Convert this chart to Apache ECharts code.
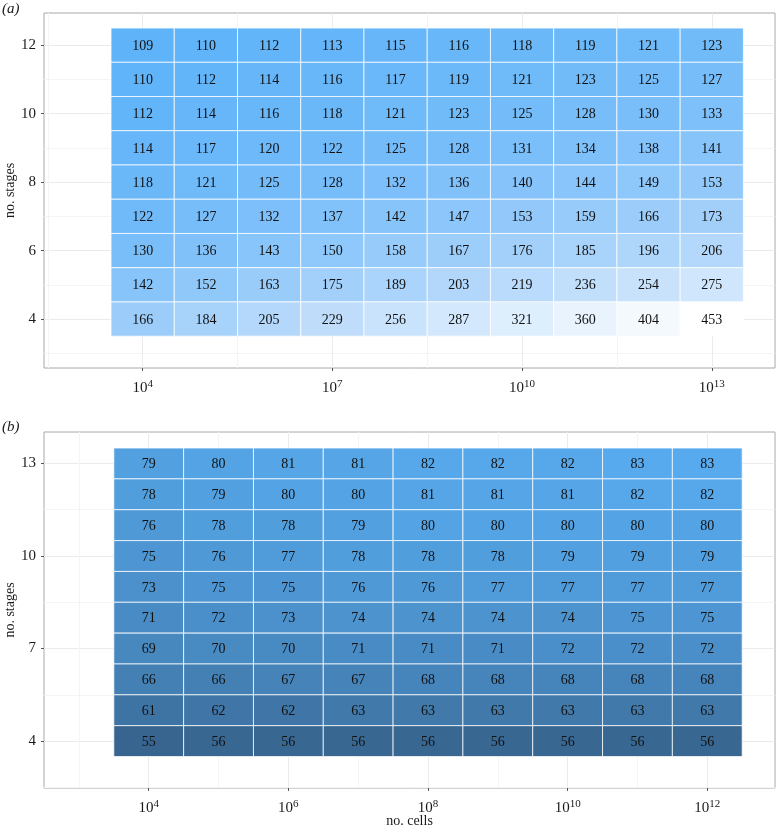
<!DOCTYPE html>
<html>
<head>
<meta charset="utf-8">
<script src="https://cdn.jsdelivr.net/npm/echarts@6/dist/echarts.min.js"></script>
<style>html,body{margin:0;padding:0;background:#fff}#c{width:776px;height:831px}</style>
</head>
<body>
<div id="c"></div>
<script>
// Panel (a): columns = log10(no. cells), rows = no. stages (top to bottom)
const colsA = [4, 5, 6, 7, 8, 9, 10, 11, 12, 13];
const stagesA = [12, 11, 10, 9, 8, 7, 6, 5, 4];
const valuesA = [
  [109, 110, 112, 113, 115, 116, 118, 119, 121, 123],
  [110, 112, 114, 116, 117, 119, 121, 123, 125, 127],
  [112, 114, 116, 118, 121, 123, 125, 128, 130, 133],
  [114, 117, 120, 122, 125, 128, 131, 134, 138, 141],
  [118, 121, 125, 128, 132, 136, 140, 144, 149, 153],
  [122, 127, 132, 137, 142, 147, 153, 159, 166, 173],
  [130, 136, 143, 150, 158, 167, 176, 185, 196, 206],
  [142, 152, 163, 175, 189, 203, 219, 236, 254, 275],
  [166, 184, 205, 229, 256, 287, 321, 360, 404, 453]
];
const xTicksA = [4, 7, 10, 13];
const xMinorA = [2.5, 5.5, 8.5, 11.5];
const yTicksA = [4, 6, 8, 10, 12];
const yMinorA = [3, 5, 7, 9, 11];

// Panel (b)
const colsB = [4, 5, 6, 7, 8, 9, 10, 11, 12];
const stagesB = [13, 12, 11, 10, 9, 8, 7, 6, 5, 4];
const valuesB = [
  [79, 80, 81, 81, 82, 82, 82, 83, 83],
  [78, 79, 80, 80, 81, 81, 81, 82, 82],
  [76, 78, 78, 79, 80, 80, 80, 80, 80],
  [75, 76, 77, 78, 78, 78, 79, 79, 79],
  [73, 75, 75, 76, 76, 77, 77, 77, 77],
  [71, 72, 73, 74, 74, 74, 74, 75, 75],
  [69, 70, 70, 71, 71, 71, 72, 72, 72],
  [66, 66, 67, 67, 68, 68, 68, 68, 68],
  [61, 62, 62, 63, 63, 63, 63, 63, 63],
  [55, 56, 56, 56, 56, 56, 56, 56, 56]
];
const xTicksB = [4, 6, 8, 10, 12];
const xMinorB = [3, 5, 7, 9, 11];
const yTicksB = [4, 7, 10, 13];
const yMinorB = [2.5, 5.5, 8.5, 11.5];

function cells(cols, stages, values) {
  const out = [];
  stages.forEach((s, i) => cols.forEach((c, j) => {
    const v = values[i][j];
    out.push([c, s, v, Math.log(v)]);
  }));
  return out;
}
const dataA = cells(colsA, stagesA, valuesA);
const dataB = cells(colsB, stagesB, valuesB);

const FONT = '"Liberation Serif", "DejaVu Serif", serif';
const labelRich = {
  b: { fontFamily: FONT, fontSize: 15, color: '#1a1a1a', lineHeight: 17, verticalAlign: 'bottom' },
  s: { fontFamily: FONT, fontSize: 11, color: '#1a1a1a', lineHeight: 17, verticalAlign: 'top' }
};

function renderCell(params, api) {
  const x = api.value(0), y = api.value(1), v = api.value(2);
  const p0 = api.coord([x - 0.5, y + 0.5]);
  const p1 = api.coord([x + 0.5, y - 0.5]);
  return {
    type: 'group',
    children: [
      { type: 'rect', shape: { x: p0[0], y: p0[1], width: p1[0] - p0[0], height: p1[1] - p0[1] },
        style: { fill: api.visual('color'), stroke: 'rgba(255,255,255,0.75)', lineWidth: 1 } },
      { type: 'text', style: { text: String(v), x: (p0[0] + p1[0]) / 2, y: (p0[1] + p1[1]) / 2 + 1,
        align: 'center', verticalAlign: 'middle', font: '14px ' + FONT, fill: '#111' } }
    ]
  };
}

function mainX(gi, min, max, ticks, name) {
  return {
    type: 'value', gridIndex: gi, min: min, max: max, position: 'bottom',
    name: name, nameLocation: 'middle', nameGap: 26, nameMoveOverlap: false,
    nameTextStyle: { fontFamily: FONT, fontSize: 14, color: '#1a1a1a' },
    axisLine: { show: false },
    axisTick: { show: true, length: 3, customValues: ticks, lineStyle: { color: '#555' } },
    axisLabel: { customValues: ticks, margin: 11, formatter: v => '{b|10}{s|' + v + '}', rich: labelRich },
    splitLine: { show: true, lineStyle: { color: '#ebebeb', width: 1 } }
  };
}
function minorX(gi, min, max, ticks) {
  return {
    type: 'value', gridIndex: gi, min: min, max: max, position: 'bottom',
    axisLine: { show: false }, axisLabel: { show: false },
    axisTick: { show: false, customValues: ticks },
    splitLine: { show: true, lineStyle: { color: '#f4f4f4', width: 1 } }
  };
}
function mainY(gi, min, max, ticks) {
  return {
    type: 'value', gridIndex: gi, min: min, max: max, position: 'left',
    name: 'no. stages', nameLocation: 'middle', nameGap: 27, nameMoveOverlap: false,
    nameTextStyle: { fontFamily: FONT, fontSize: 14, color: '#1a1a1a' },
    axisLine: { show: false },
    axisTick: { show: true, length: 3, customValues: ticks, lineStyle: { color: '#555' } },
    axisLabel: { customValues: ticks, margin: 8, fontFamily: FONT, fontSize: 15, color: '#1a1a1a' },
    splitLine: { show: true, lineStyle: { color: '#ebebeb', width: 1 } }
  };
}
function minorY(gi, min, max, ticks) {
  return {
    type: 'value', gridIndex: gi, min: min, max: max, position: 'left',
    axisLine: { show: false }, axisLabel: { show: false },
    axisTick: { show: false, customValues: ticks },
    splitLine: { show: true, lineStyle: { color: '#f4f4f4', width: 1 } }
  };
}

const chart = echarts.init(document.getElementById('c'), null, { renderer: 'canvas' });
chart.setOption({
  backgroundColor: '#ffffff',
  animation: false,
  graphic: [
    { type: 'text', left: 2, top: 2, style: { text: '(a)', font: 'italic 15px ' + FONT, fill: '#1a1a1a' } },
    { type: 'text', left: 2, top: 420, style: { text: '(b)', font: 'italic 15px ' + FONT, fill: '#1a1a1a' } }
  ],
  grid: [
    { left: 44, top: 13, width: 731, height: 355, show: true, borderColor: '#a8a8a8', borderWidth: 1,
      backgroundColor: 'transparent', containLabel: false, outerBoundsMode: 'none' },
    { left: 44, top: 432, width: 731, height: 356, show: true, borderColor: '#a8a8a8', borderWidth: 1,
      backgroundColor: 'transparent', containLabel: false, outerBoundsMode: 'none' }
  ],
  xAxis: [
    minorX(0, 2.44, 14.0, xMinorA),
    mainX(0, 2.44, 14.0, xTicksA, ''),
    minorX(1, 2.5, 12.97, xMinorB),
    mainX(1, 2.5, 12.97, xTicksB, 'no. cells')
  ],
  yAxis: [
    minorY(0, 2.57, 12.94, yMinorA),
    mainY(0, 2.57, 12.94, yTicksA),
    minorY(1, 2.48, 14.02, yMinorB),
    mainY(1, 2.48, 14.02, yTicksB)
  ],
  visualMap: [
    { type: 'continuous', show: false, seriesIndex: 0, dimension: 3,
      min: Math.log(109), max: Math.log(453),
      inRange: { color: ['#5fb3f9', '#95cafa', '#bcdcfb', '#dcedfd', '#ffffff'] } },
    { type: 'continuous', show: false, seriesIndex: 1, dimension: 2,
      min: 55, max: 83,
      inRange: { color: ['#37658f', '#57aaee'] } }
  ],
  series: [
    { type: 'custom', xAxisIndex: 1, yAxisIndex: 1, renderItem: renderCell, data: dataA,
      encode: { x: 0, y: 1 }, z: 5 },
    { type: 'custom', xAxisIndex: 3, yAxisIndex: 3, renderItem: renderCell, data: dataB,
      encode: { x: 0, y: 1 }, z: 5 }
  ]
});
</script>
</body>
</html>
